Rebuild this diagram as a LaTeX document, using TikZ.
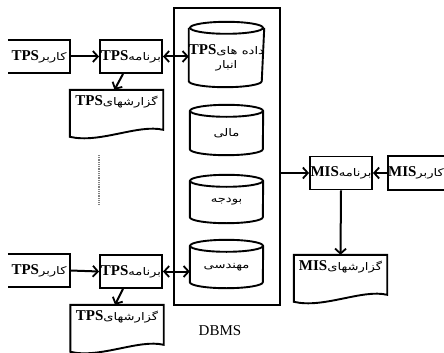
\documentclass[tikz,border=0pt]{standalone}
\usepackage{fontspec}
\setmainfont{Liberation Serif}
\newfontfamily\arabicfont[Script=Arabic,FakeStretch=1.25]{DejaVu Sans}
\TeXXeTstate=1
\usetikzlibrary{arrows.meta,calc}
\newcommand{\artxt}[1]{{\arabicfont\fontsize{10.5}{12}\selectfont\beginR #1\endR}}
\newcommand{\lattxt}[1]{{\bfseries\fontsize{15}{16}\selectfont #1}}
\newcommand{\docshape}[1]{\draw[ln] (#1.north west) -- (#1.north east) -- ($(#1.north east)+(0,40)$) .. controls ($(#1.north east)+(-25,34)$) and ($(#1.north west)+(30,54)$) .. ($(#1.north west)+(0,47)$) -- cycle;}
\newcommand{\cylshape}[1]{\draw[ln] (#1.north) ellipse [x radius=36.5pt, y radius=6pt];
  \draw[ln] (#1.north west) -- ($(#1.south west)+(0,-6)$) arc[start angle=180,end angle=360,x radius=36.5pt,y radius=6pt] -- (#1.north east);}
\begin{document}
\begin{tikzpicture}[x=1pt,y=-1pt,
  ln/.style={line width=1.9pt},
  box/.style={draw, ln, minimum width=62pt, minimum height=33pt, inner sep=0pt},
  openbox/.style={minimum width=62pt, minimum height=33pt, inner sep=0pt},
  docnode/.style={minimum width=93pt, minimum height=24pt, inner sep=0pt},
  cylnode/.style={minimum width=73pt, inner sep=0pt, align=center},
  arr/.style={line width=2pt, -{Straight Barb[length=5pt,width=11pt,line width=1.8pt]}},
  darr/.style={line width=2pt, {Straight Barb[length=5pt,width=11pt,line width=1.8pt]}-{Straight Barb[length=5pt,width=11pt,line width=1.8pt]}}]
\useasboundingbox (0,0) rectangle (444,353);
\clip (0,0) rectangle (444,353);
% DBMS
\node[draw, ln, minimum width=106pt, minimum height=297pt, inner sep=0pt] (dbms) at (227,156.5) {};
\node (dbmsl) at (220,331) {\fontsize{15}{16}\selectfont DBMS};
% cylinders
\node[cylnode, minimum height=59pt] (c1) at (226.5,57.5) {\lattxt{TPS}\artxt{داده های}\\[2pt]\artxt{انبار}};
\node[cylnode, minimum height=44pt] (c2) at (226.5,133) {\artxt{مالی}};
\node[cylnode, minimum height=42pt] (c3) at (226.5,202) {\artxt{بودجه}};
\node[cylnode, minimum height=42pt] (c4) at (226.5,267) {\artxt{مهندسی}};
\cylshape{c1}\cylshape{c2}\cylshape{c3}\cylshape{c4}
% top TPS row
\node[openbox] (u1) at (39,56.5) {\lattxt{TPS}\artxt{کاربر}};
\draw[ln] (u1.north west) -- (u1.north east) -- (u1.south east) -- (u1.south west);
\node[box] (p1) at (131,56.5) {\lattxt{TPS}\artxt{برنامه}};
\node[docnode] (r1) at (116.5,102) {\lattxt{TPS}\artxt{گزارشهای}};
\docshape{r1}
\draw[arr] (u1.east) -- (p1.west);
\draw[darr] (p1.east) -- (p1.east -| c1.west);
\draw[arr] ($(p1.south)+(-8,0)$) -- ($(r1.north)+(-2,0)$);
% dots
\coordinate (d1) at (99,155);
\coordinate (d2) at (99,205);
\draw[line width=1.4pt, gray, dash pattern=on 1pt off 0.8pt] (d1) -- (d2);
% bottom TPS row
\node[openbox] (u2) at (39,270.5) {\lattxt{TPS}\artxt{کاربر}};
\draw[ln] (u2.north west) -- (u2.north east) -- (u2.south east) -- (u2.south west);
\node[box] (p2) at (131,271.5) {\lattxt{TPS}\artxt{برنامه}};
\node[docnode] (r2) at (117,317) {\lattxt{TPS}\artxt{گزارشهای}};
\docshape{r2}
\draw[arr] (u2.east) -- (p2.west);
\draw[darr] (p2.east) -- (p2.east -| c4.west);
\draw[arr] ($(p2.south)+(-8,0)$) -- ($(r2.north)+(-2,0)$);
% MIS
\node[box] (p3) at (341,173) {\lattxt{MIS}\artxt{برنامه}};
\node[openbox, minimum width=56pt] (u3) at (416,173) {\lattxt{MIS}\artxt{کاربر}};
\draw[ln] (u3.north east) -- (u3.north west) -- (u3.south west) -- (u3.south east);
\node[docnode] (r3) at (340.5,267) {\lattxt{MIS}\artxt{گزارشهای}};
\docshape{r3}
\draw[arr] (p3.west -| dbms.east) -- (p3.west);
\draw[arr] (u3.west) -- (p3.east);
\draw[arr] (p3.south) -- (r3.north);
\end{tikzpicture}
\end{document}
